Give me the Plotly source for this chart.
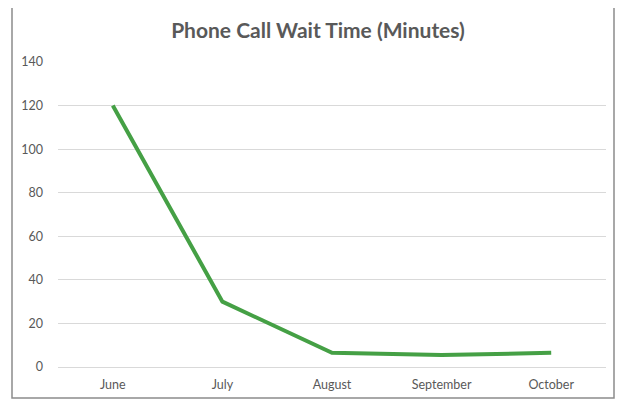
import plotly.graph_objects as go

months = ["June", "July", "August", "September", "October"]
wait_minutes = [120, 30, 6.5, 5.5, 6.5]
y_ticks = [0, 20, 40, 60, 80, 100, 120, 140]

# page body has an 8px margin; compensate so absolute positions match
OFF = 8
W, H = 624 - OFF, 404 - OFF
L, R, T, B = 58 - OFF, 18, 62 - OFF, 37
pw, ph = W - L - R, H - T - B

def px_to_paper_x(x):
    return (x - OFF - L) / pw

def px_to_paper_y(y):
    return (H - B - (y - OFF)) / ph

fig = go.Figure()
fig.add_trace(go.Scatter(
    x=months, y=wait_minutes, mode="lines",
    line=dict(color="#45a045", width=4),
    hoverinfo="x+y",
))

FONT = "Lato, 'Open Sans', sans-serif"
fig.update_layout(
    width=W, height=H,
    margin=dict(l=L, r=R, t=T, b=B),
    paper_bgcolor="white", plot_bgcolor="white",
    showlegend=False,
    font=dict(family=FONT, color="#595959", size=12),
    title=dict(
        text="<b>Phone Call Wait Time (Minutes)</b>",
        font=dict(size=21, color="#595959", family=FONT),
        x=px_to_paper_x(318), xref="paper", xanchor="center",
        y=1 - (31 - OFF) / H, yref="container", yanchor="middle",
    ),
    xaxis=dict(
        type="category", range=[-0.5, 4.5],
        showgrid=False, showline=False, zeroline=False,
        ticks="", ticklabelstandoff=8,
        tickfont=dict(size=12.5, color="#595959", family=FONT),
        fixedrange=True,
    ),
    yaxis=dict(
        range=[0, 140], tickvals=y_ticks,
        showgrid=True, gridcolor="#d9d9d9", gridwidth=1,
        zeroline=True, zerolinecolor="#d9d9d9", zerolinewidth=1,
        showline=False, ticks="", ticklabelstandoff=14,
        tickfont=dict(size=12.5, color="#595959", family=FONT),
        fixedrange=True,
    ),
    shapes=[dict(
        type="rect", xref="paper", yref="paper",
        x0=px_to_paper_x(12), x1=px_to_paper_x(614),
        y0=px_to_paper_y(398), y1=px_to_paper_y(3),
        line=dict(color="#8c8c8c", width=1.5), fillcolor="rgba(0,0,0,0)",
        layer="below",
    )],
)

fig.write_html("out.html")
